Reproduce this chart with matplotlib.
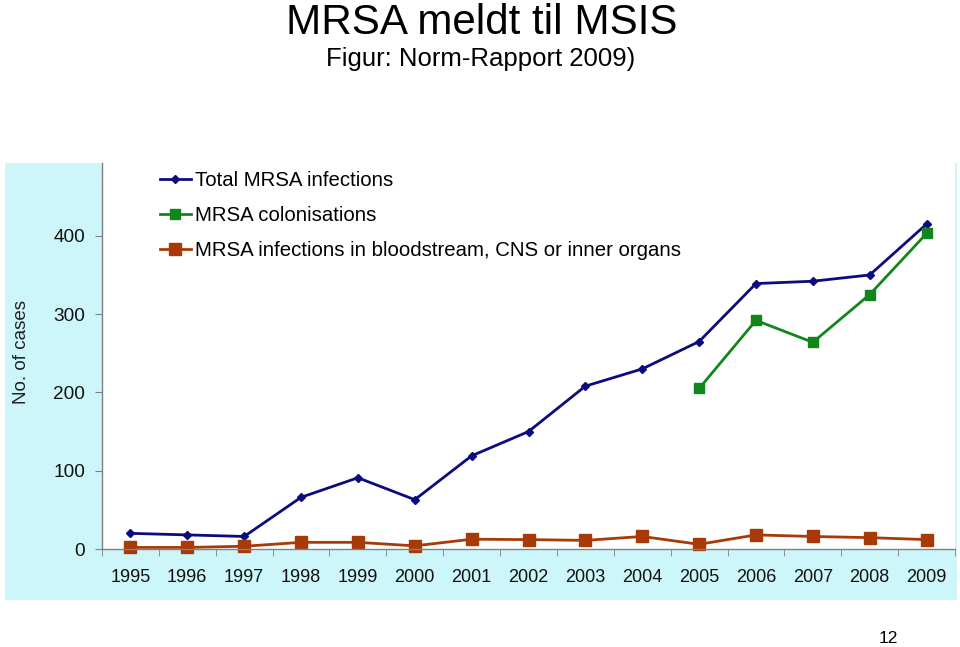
import numpy as np
import matplotlib
matplotlib.use("Agg")
import matplotlib.pyplot as plt
from matplotlib.patches import Rectangle

plt.rcParams["font.family"] = ["Liberation Sans", "DejaVu Sans"]

years = list(range(1995, 2010))
total_infections = [20, 18, 16, 66, 91, 63, 119, 150, 208, 230, 265, 339, 342, 350, 415]
colonisation_years = [2005, 2006, 2007, 2008, 2009]
colonisations = [205, 292, 264, 325, 403]
bloodstream = [2, 2, 3.5, 8.5, 8.5, 4, 12.5, 12, 11, 16, 6, 18, 16, 14.5, 12]
y_ticks = [0, 100, 200, 300, 400]

W, H = 960, 647
fig = plt.figure(figsize=(W / 100, H / 100), dpi=100)

# light cyan panel behind the chart
fig.patches.append(Rectangle((5 / W, (H - 600) / H), (957 - 5) / W, (600 - 163) / H,
                             transform=fig.transFigure, facecolor="#cdf6fa",
                             edgecolor="none", zorder=-5))

ax = fig.add_axes([102 / W, (H - 549) / H, (955 - 102) / W, (549 - 163) / H])
ax.set_facecolor("white")

ax.plot(years, total_infections, color="#0b0b7e", lw=2.0, marker="D", ms=4.5,
        label="Total MRSA infections", clip_on=False)
ax.plot(colonisation_years, colonisations, color="#12861a", lw=2.0, marker="s", ms=7.5,
        label="MRSA colonisations", clip_on=False)
ax.plot(years, bloodstream, color="#a83a08", lw=2.0, marker="s", ms=8.5,
        label="MRSA infections in bloodstream, CNS or inner organs", clip_on=False)

ax.set_xlim(1994.5, 2009.5)
ax.set_ylim(0, 493)
ax.set_xticks(years)
ax.set_xticks(np.arange(1994.5, 2010, 1), minor=True)
ax.set_yticks(y_ticks)
ax.tick_params(axis="x", which="major", length=0, labelsize=13, pad=14.5, colors="#111111")
ax.tick_params(axis="x", which="minor", length=5, color="#808080", direction="out")
ax.tick_params(axis="y", length=5, color="#808080", labelsize=13.7, pad=7, labelcolor="#111111")
for s in ["top", "right"]:
    ax.spines[s].set_visible(False)
for s in ["left", "bottom"]:
    ax.spines[s].set_color("#808080")
    ax.spines[s].set_linewidth(1.0)

fig.text(22 / W, 1 - 352 / H, "No. of cases", fontsize=13.5, color="#222222",
         rotation=90, ha="center", va="center")

ax.legend(loc="upper left", bbox_to_anchor=((160 - 102) / 853, (549 - 171) / 386),
          frameon=False, fontsize=14.7, handlelength=1.5, handletextpad=0.2,
          borderpad=0, borderaxespad=0, labelspacing=0.78)

fig.text(482 / W, 1 - 34 / H, "MRSA meldt til MSIS", fontsize=30.3, ha="center",
         va="baseline")
fig.text(481 / W, 1 - 66 / H, "Figur: Norm-Rapport 2009)", fontsize=18.5, ha="center",
         va="baseline")
fig.text(898 / W, 1 - 643 / H, "12", fontsize=12.5, ha="right", va="baseline")

fig.savefig("out.png", dpi=100)
